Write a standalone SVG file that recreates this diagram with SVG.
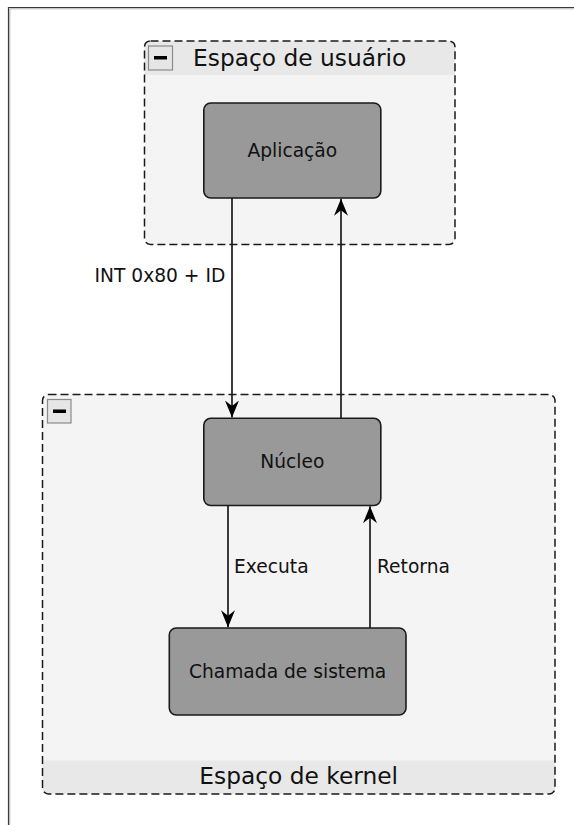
<svg xmlns="http://www.w3.org/2000/svg" width="574" height="825" viewBox="0 0 574 825">
<defs>
<style>
.grp{fill:#f4f4f4;stroke:none}
.band{fill:#e8e8e8;stroke:none}
.gborder{fill:none;stroke:#1a1a1a;stroke-width:1.5;stroke-dasharray:8 4}
.node{fill:#999999;stroke:#1a1a1a;stroke-width:1.6}
.btn{fill:#e6e6e6;stroke:#8a8a8a;stroke-width:1.2}
.bar{fill:#000}
.t{font-family:"DejaVu Sans",sans-serif;fill:#111111}
.nt{font-size:18.67px;text-anchor:middle}
.el{font-size:18.67px}
.tt{font-size:23.3px;text-anchor:middle}
.edge{fill:none;stroke:#1a1a1a;stroke-width:1.7}
</style>
<marker id="arr" markerUnits="userSpaceOnUse" markerWidth="18" markerHeight="16" viewBox="0 0 18 16" refX="17" refY="8" orient="auto">
<path d="M0,1 L17,8 L0,15 L5.5,8 z" fill="#000"/>
</marker>
</defs>
<rect width="574" height="825" fill="#ffffff"/>
<g id="frame">
<path d="M8.5,825 V7.5 H574" fill="none" stroke="#3a3a3a" stroke-width="1.2"/>
<path d="M9.8,825 V8.8 H574" fill="none" stroke="#b0b0b0" stroke-width="1"/>
</g>
<g id="user-space">
<rect class="grp" x="144.5" y="41" width="310.5" height="203.5" rx="6"/>
<path class="band" d="M150.5,41 H449 A6,6 0 0 1 455,47 V75 H144.5 V47 A6,6 0 0 1 150.5,41 z"/>
<rect class="gborder" x="144.5" y="41" width="310.5" height="203.5" rx="6"/>
<rect class="btn" x="148.5" y="46" width="24" height="24"/>
<rect class="bar" x="154" y="56" width="13" height="3.5"/>
<text class="t tt" x="299.7" y="65.5">Espaço de usuário</text>
</g>
<g id="kernel-space">
<rect class="grp" x="42.5" y="394.5" width="512.5" height="399.5" rx="6"/>
<path class="band" d="M42.5,760.5 H555 V788 A6,6 0 0 1 549,794 H48.5 A6,6 0 0 1 42.5,788 z"/>
<rect class="gborder" x="42.5" y="394.5" width="512.5" height="399.5" rx="6"/>
<rect class="btn" x="47.5" y="399.5" width="23.5" height="23.5"/>
<rect class="bar" x="53" y="409.5" width="13" height="3.5"/>
<text class="t tt" x="298.7" y="784">Espaço de kernel</text>
</g>
<g id="aplicacao">
<rect class="node" x="203.8" y="103" width="177" height="95" rx="7"/>
<text class="t nt" x="292.3" y="157">Aplicação</text>
</g>
<g id="nucleo">
<rect class="node" x="203.8" y="418.3" width="177" height="87.2" rx="7"/>
<text class="t nt" x="292.3" y="468.3">Núcleo</text>
</g>
<g id="chamada">
<rect class="node" x="169.3" y="628" width="236.7" height="87" rx="7"/>
<text class="t nt" x="287.6" y="678">Chamada de sistema</text>
</g>
<g id="connectors">
<line class="edge" x1="232" y1="198" x2="232" y2="417.5" marker-end="url(#arr)"/>
<line class="edge" x1="341" y1="418.3" x2="341" y2="198.8" marker-end="url(#arr)"/>
<line class="edge" x1="228" y1="505.5" x2="228" y2="627.3" marker-end="url(#arr)"/>
<line class="edge" x1="370" y1="628" x2="370" y2="506.2" marker-end="url(#arr)"/>
<text class="t el" x="94.5" y="282">INT 0x80 + ID</text>
<text class="t el" x="234" y="573">Executa</text>
<text class="t el" x="377" y="573">Retorna</text>
</g>
</svg>
